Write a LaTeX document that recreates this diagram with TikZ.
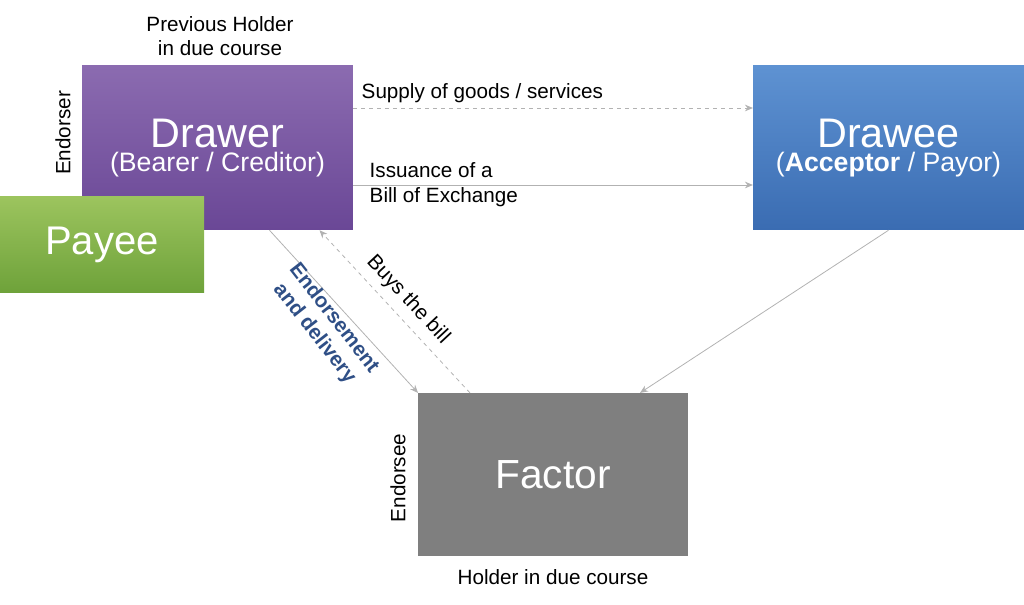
\documentclass[tikz,border=0pt]{standalone}
\usepackage{fontspec}
\setmainfont{Liberation Sans}
\usetikzlibrary{positioning, calc, arrows.meta}
\definecolor{endblue}{HTML}{2F4F86}
\definecolor{drawtop}{HTML}{8B6BB0}
\definecolor{drawbot}{HTML}{6A4796}
\definecolor{payeetop}{HTML}{9CC45E}
\definecolor{payeebot}{HTML}{6EA23A}
\definecolor{draweetop}{HTML}{5E92D2}
\definecolor{draweebot}{HTML}{3A6CB2}
\definecolor{factorgray}{HTML}{7F7F7F}
\tikzstyle{box} = [rectangle, inner sep=0pt, minimum width=203pt, minimum height=123pt, text=white, align=center]
\tikzstyle{arrow} = [draw=gray!60, line width=0.6pt, -{Stealth[length=6pt,width=5pt]}]
\tikzstyle{lbl} = [font=\fontsize{15.5}{18.5}\selectfont, align=left]

\begin{document}
\begin{tikzpicture}[x=0.75pt, y=-0.75pt]
        % rahmen
        \useasboundingbox (0,0) rectangle (1024,605);
        % die vier kaesten
        \node[box, top color=drawtop, bottom color=drawbot] (drawer) at (217.5,148) {\fontsize{31}{34}\selectfont Drawer\\[2pt]\fontsize{20}{23}\selectfont (Bearer / Creditor)};
        \node[box, minimum width=153pt, minimum height=72pt, top color=payeetop, bottom color=payeebot, font=\fontsize{30}{33}\selectfont] (payee) at (102,245) {Payee};
        \node[box, top color=draweetop, bottom color=draweebot] (drawee) at (888.5,148) {\fontsize{31}{34}\selectfont Drawee\\[2pt]\fontsize{20}{23}\selectfont (\textbf{Acceptor} / Payor)};
        \node[box, minimum width=202pt, minimum height=122pt, fill=factorgray, font=\fontsize{30.5}{33}\selectfont] (factor) at (553,474.5) {Factor};
        % rollen
        \node[lbl, align=center] (prev) at (220,36) {Previous Holder\\in due course};
        \node[lbl, rotate=90] (endorser) at (63,133) {Endorser};
        \node[lbl, rotate=90] (endorsee) at (398,478) {Endorsee};
        \node[lbl] (holder) at (553,577) {Holder in due course};
        % pfeile
        \draw[arrow, dashed] ($(drawer.east)+(0,-40)$) -- ($(drawee.west)+(0,-40)$);
        \node[lbl, anchor=west] (supply) at (357,93) {Supply of goods / services};
        \draw[arrow] ($(drawer.east)+(0,37)$) -- ($(drawee.west)+(0,37)$);
        \node[lbl, anchor=west] (issue) at (365,185) {Issuance of a\\Bill of Exchange};
        \draw[arrow] ($(drawer.south)+(52,0)$) -- ($(factor.north)+(-135,0)$);
        \node[text=endblue, font=\fontsize{15.5}{18.5}\selectfont\bfseries, align=center, rotate=-52] (endo) at (324,326) {Endorsement\\and delivery};
        \draw[arrow, dashed] ($(factor.north)+(-83,0)$) -- ($(drawer.south)+(102,0)$);
        \node[lbl, rotate=-47] (buys) at (408,300) {Buys the bill};
        \draw[arrow] ($(drawee.south)+(0,0)$) -- ($(factor.north)+(87,0)$);
    \end{tikzpicture}
\end{document}
